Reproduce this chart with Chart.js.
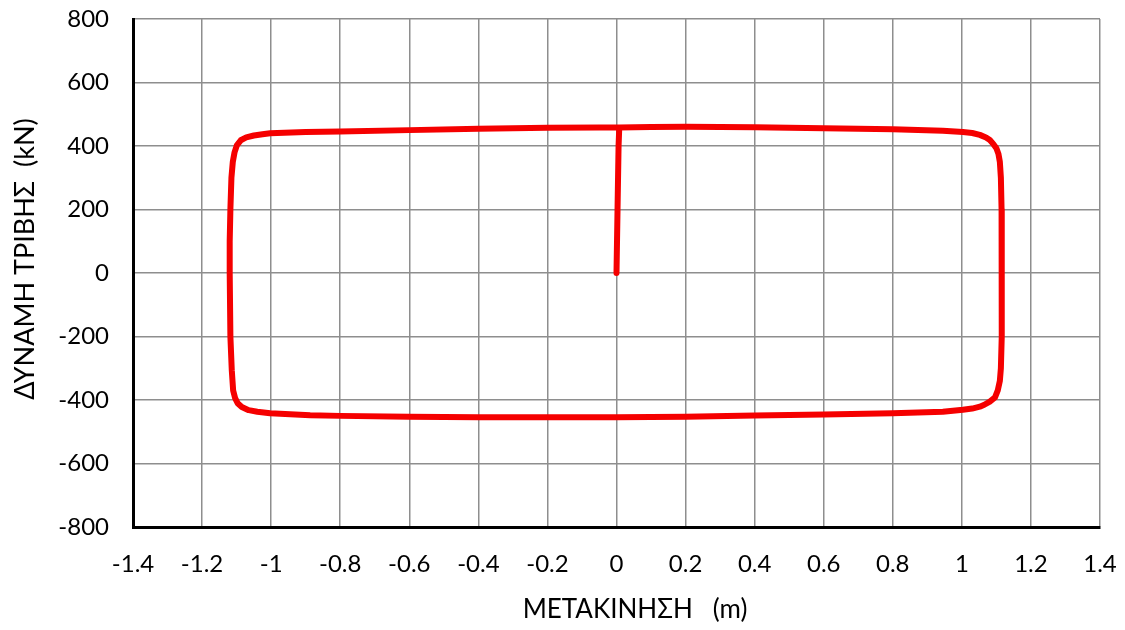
<!DOCTYPE html>
<html>
<head>
<meta charset="utf-8">
<script src="https://cdn.jsdelivr.net/npm/chart.js@4/dist/chart.umd.min.js"></script>
<style>
  html, body { margin: 0; padding: 0; background: #ffffff; }
  #wrap { width: 1125px; height: 630px; }
</style>
</head>
<body>
<div id="wrap"><canvas id="loop" width="1125" height="630"></canvas></div>
<script>
// Friction bearing hysteresis loop: displacement (m) vs friction force (kN)
const displacement = [
  0.000, 0.003, 0.006, 0.008, 0.100,
  0.200, 0.400, 0.600, 0.800, 0.945, 1.003, 1.030, 1.052, 1.070, 1.081, 1.092, 1.100,
  1.106, 1.110, 1.113, 1.115, 1.116, 1.115, 1.113, 1.110, 1.104, 1.096,
  1.081, 1.065, 1.052, 1.030, 1.003, 0.945, 0.800, 0.600, 0.400, 0.200, 0.000,
  -0.200, -0.400, -0.600, -0.800, -0.887, -1.003, -1.040, -1.065, -1.085, -1.097, -1.104,
  -1.110, -1.114, -1.118, -1.120, -1.120, -1.118, -1.115, -1.111, -1.106, -1.099,
  -1.088, -1.072, -1.050, -1.025, -1.003, -0.900, -0.800, -0.600, -0.400, -0.200,
  -0.050, 0.008
];
const frictionForce = [
  0, 200, 400, 458, 460,
  461, 459, 456, 453, 448, 444, 441, 435, 427, 419, 405, 393,
  375, 350, 300, 200, 0, -200, -300, -340, -370, -392,
  -405, -415, -421, -427, -431, -437, -442, -446, -449, -452.6, -454.6,
  -454.6, -454.6, -452.6, -450, -448, -442, -437, -432, -422, -410, -395,
  -370, -306, -200, 0, 100, 200, 300, 350, 380, 403,
  418, 427, 433, 437, 440, 444, 446, 450, 454.5, 457.6,
  458.5, 458
];

const xTickLabels = ['-1.4', '-1.2', '-1', '-0.8', '-0.6', '-0.4', '-0.2', '0',
                     '0.2', '0.4', '0.6', '0.8', '1', '1.2', '1.4'];
const yTickLabels = ['-800', '-600', '-400', '-200', '0', '200', '400', '600', '800'];

const xTitle = 'ΜΕΤΑΚΙΝΗΣΗ   (m)';
const yTitle = 'ΔΥΝΑΜΗ ΤΡΙΒΗΣ  (kN)';

const points = displacement.map((x, i) => ({ x: x, y: frictionForce[i] }));

const FONT = "Lato, 'Open Sans', 'DejaVu Sans', sans-serif";

// Axis titles placed freely, as in the original spreadsheet layout
const axisTitles = {
  id: 'axisTitles',
  afterDraw(chart) {
    const ctx = chart.ctx;
    ctx.save();
    ctx.fillStyle = '#000000';
    ctx.font = '26px ' + FONT;
    ctx.textAlign = 'center';
    ctx.textBaseline = 'middle';
    ctx.fillText(xTitle, 635, 610);
    ctx.font = '27px ' + FONT;
    ctx.translate(25, 259);
    ctx.rotate(-Math.PI / 2);
    ctx.fillText(yTitle, 0, 0);
    ctx.restore();
  }
};

const whiteBackground = {
  id: 'whiteBackground',
  beforeDraw(chart) {
    const ctx = chart.ctx;
    ctx.save();
    ctx.fillStyle = '#ffffff';
    ctx.fillRect(0, 0, chart.width, chart.height);
    ctx.restore();
  }
};

// Fixed axis sizes; label overhang is left to the layout padding
function fixSize(prop, size) {
  return function (scale) {
    scale[prop] = size;
    scale.paddingTop = 0;
    scale.paddingBottom = 0;
    scale.paddingLeft = 0;
    scale.paddingRight = 0;
  };
}

new Chart(document.getElementById('loop'), {
  type: 'scatter',
  data: {
    datasets: [{
      data: points,
      showLine: true,
      borderColor: '#f50000',
      borderWidth: 6,
      pointRadius: 0,
      pointHoverRadius: 0,
      tension: 0,
      fill: false,
      borderCapStyle: 'round',
      borderJoinStyle: 'round'
    }]
  },
  options: {
    responsive: false,
    animation: false,
    devicePixelRatio: 1,
    layout: { padding: { left: 0, top: 19, right: 25, bottom: 0 } },
    plugins: {
      legend: { display: false },
      tooltip: { enabled: false }
    },
    scales: {
      x: {
        type: 'linear',
        min: -1.4,
        max: 1.4,
        afterFit: fixSize('height', 103),
        ticks: {
          stepSize: 0.2,
          autoSkip: false,
          maxRotation: 0,
          padding: 23,
          color: '#000000',
          font: { family: FONT, size: 24 },
          callback: (value, index) => xTickLabels[index]
        },
        grid: { color: '#8e8e8e', lineWidth: 1.5, drawTicks: false },
        border: { display: true, color: '#000000', width: 3 }
      },
      y: {
        type: 'linear',
        min: -800,
        max: 800,
        afterFit: fixSize('width', 133),
        ticks: {
          stepSize: 200,
          padding: 24,
          color: '#000000',
          font: { family: FONT, size: 24 },
          callback: (value, index) => yTickLabels[index]
        },
        grid: { color: '#8e8e8e', lineWidth: 1.5, drawTicks: false },
        border: { display: true, color: '#000000', width: 3 }
      }
    }
  },
  plugins: [whiteBackground, axisTitles]
});
</script>
</body>
</html>
